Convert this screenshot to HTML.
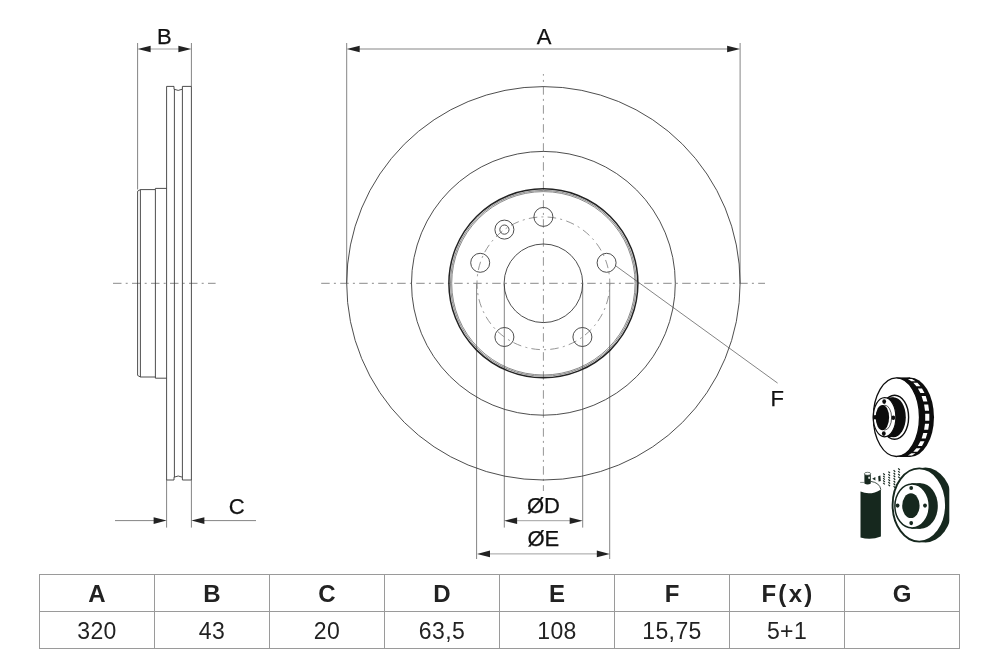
<!DOCTYPE html>
<html lang="en">
<head>
<meta charset="utf-8">
<title>Brake disc dimensions</title>
<style>
html,body{margin:0;padding:0;background:#fff;}
body{width:1000px;height:666px;position:relative;overflow:hidden;font-family:"Liberation Sans",Arial,sans-serif;}
svg.drawing{position:absolute;left:0;top:0;display:block;will-change:transform;}
table.dims{will-change:transform;position:absolute;left:39px;top:574px;width:921px;height:74px;border-collapse:collapse;table-layout:fixed;}
table.dims th,table.dims td{border:1px solid #9a9a9a;text-align:center;padding:0;font-size:22px;color:#222;line-height:36px;height:36px;}
table.dims th{font-weight:bold;font-size:24px;padding-top:2px;line-height:34px;height:34px;}
table.dims th.fx{letter-spacing:2.3px;padding-left:2px;}
table.dims td{font-weight:normal;font-size:23px;letter-spacing:0.4px;padding-top:3px;line-height:33px;height:33px;}
</style>
</head>
<body>
<svg class="drawing" width="1000" height="666" viewBox="0 0 1000 666">
<rect width="1000" height="666" fill="#fff"/>
<g fill="none" stroke="#858585" stroke-width="1">
<path d="M137.6 43V189.5M191.4 43V86.4"/>
<path d="M150 49H179" stroke="#a0a0a0"/>
<path d="M166.6 480V527.6M191.4 480V527.6"/>
<path d="M115 520.6H154M204 520.6H256"/>
<path d="M346.7 43V283M740.1 43V283"/>
<path d="M359 49H728"/>
<path d="M504.3 283.3V527.6M582.7 283.3V527.6M476.6 283.3V559M609.7 283.3V559"/>
<path d="M516 520.7H571M489 553.9H598" stroke="#a0a0a0"/>
<path d="M615.5 265.7L777.6 383.1"/>
</g>
<polygon points="137.6,49 150.6,45.7 150.6,52.3" fill="#222"/>
<polygon points="191.4,49 178.4,45.7 178.4,52.3" fill="#222"/>
<polygon points="166.6,520.6 153.6,517.3000000000001 153.6,523.9" fill="#222"/>
<polygon points="191.4,520.6 204.4,517.3000000000001 204.4,523.9" fill="#222"/>
<polygon points="346.7,49 359.7,45.7 359.7,52.3" fill="#222"/>
<polygon points="740.1,49 727.1,45.7 727.1,52.3" fill="#222"/>
<polygon points="504.1,520.7 517.1,517.4000000000001 517.1,524.0" fill="#222"/>
<polygon points="582.7,520.7 569.7,517.4000000000001 569.7,524.0" fill="#222"/>
<polygon points="477,553.9 490,550.6 490,557.1999999999999" fill="#222"/>
<polygon points="609.8,553.9 596.8,550.6 596.8,557.1999999999999" fill="#222"/>
<g fill="none" stroke="#8a8a8a" stroke-width="1" stroke-dasharray="8.5 4.2 2 4.3">
<path d="M113 283.3H215.6"/>
<path d="M321.2 283.3H765"/>
</g>
<g fill="none" stroke="#8a8a8a" stroke-width="0.9" stroke-dasharray="8.5 4.2 2 4.3">
<path d="M543.4 74V491" stroke-dashoffset="6.8"/>
<circle cx="543.4" cy="283.3" r="66.4" stroke-dashoffset="6.3"/>
</g>
<g fill="none" stroke="#3a3a3a" stroke-width="0.9" stroke-linejoin="round">
<path d="M166.6 480V86.4H174V89.2Q178.2 91.6 182.4 89.2V86.4H191.4V480H182.4V477.2Q178.2 474.8 174 477.2V480Z"/>
<path d="M174.4 89.2V477.2M182.4 89.2V477.2"/>
<path d="M166.6 188.4H155.4V189.6H140.4L137.6 191.2V375.4L140.4 377H155.4V378.2H166.6"/>
<path d="M140.4 189.6V377M155.4 189.6V377"/>
</g>
<g fill="none" stroke="#3a3a3a" stroke-width="0.9">
<circle cx="543.4" cy="283.3" r="196.7"/>
<circle cx="543.4" cy="283.3" r="131.9"/>
<circle cx="543.4" cy="283.3" r="94.5" stroke-width="1.5" stroke="#222"/>
<circle cx="543.4" cy="283.3" r="92.9" stroke-width="0.6"/>
<circle cx="543.4" cy="283.3" r="91.7" stroke-width="0.6"/>
<circle cx="543.4" cy="283.3" r="39.3"/>
<circle cx="543.4" cy="216.9" r="9.5"/>
<circle cx="606.6" cy="262.8" r="9.5"/>
<circle cx="582.4" cy="337.0" r="9.5"/>
<circle cx="504.4" cy="337.0" r="9.5"/>
<circle cx="480.2" cy="262.8" r="9.5"/>
<circle cx="504.4" cy="229.6" r="9.5"/>
<circle cx="504.4" cy="229.6" r="4.6"/>
</g>
<g font-family="'Liberation Sans', Arial, sans-serif" font-size="22" fill="#111" text-anchor="middle" stroke="#111" stroke-width="0.25">
<text x="164.3" y="43.5">B</text>
<text x="544" y="43.5">A</text>
<text x="236.8" y="513.6">C</text>
<text x="543.4" y="512.5">ØD</text>
<text x="543.3" y="546.4">ØE</text>
<text x="777.3" y="405.9">F</text>
</g>
<g class="icon-vented">
<ellipse cx="910" cy="417.2" rx="24" ry="39.8" fill="#0d0d0d"/>
<rect x="896.4" y="377.4" width="13.6" height="79.6" fill="#0d0d0d"/>
<ellipse cx="896.4" cy="417.2" rx="23.1" ry="39.3" fill="#fff" stroke="#0d0d0d" stroke-width="1.3"/>
<path d="M907.9 379.0L912.0 379.0L915.5 381.2L911.4 381.2ZM913.3 382.7L917.4 382.7L920.5 386.2L916.4 386.2ZM917.9 388.5L922.0 388.5L924.5 393.1L920.4 393.1ZM921.6 395.9L925.7 395.9L927.4 401.4L923.3 401.4ZM924.1 404.6L928.2 404.6L929.1 410.7L925.0 410.7ZM925.2 413.7L929.3 413.7L929.3 420.7L925.2 420.7ZM925.0 423.7L929.1 423.7L928.2 429.8L924.1 429.8ZM923.3 433.0L927.4 433.0L925.7 438.5L921.6 438.5ZM920.4 441.3L924.5 441.3L922.0 445.9L917.9 445.9ZM916.4 448.2L920.5 448.2L917.4 451.7L913.3 451.7ZM911.4 453.2L915.5 453.2L912.0 455.4L907.9 455.4Z" fill="#fff"/>
<ellipse cx="894.6" cy="417.2" rx="14" ry="22" fill="#fff" stroke="#0d0d0d" stroke-width="1.4"/>
<ellipse cx="893.4" cy="417.2" rx="12.4" ry="20" fill="#0d0d0d"/>
<rect x="884" y="397.4" width="9.4" height="39.6" fill="#0d0d0d"/>
<ellipse cx="884.6" cy="417.2" rx="11.3" ry="19.6" fill="#fff" stroke="#0d0d0d" stroke-width="1.2"/>
<ellipse cx="884.8" cy="417.6" rx="6.8" ry="12.4" fill="#fff" stroke="#0d0d0d" stroke-width="0.7"/>
<ellipse cx="882.4" cy="417.6" rx="6.7" ry="12.7" fill="#0d0d0d"/>
<ellipse cx="884.2" cy="401.6" rx="1.9" ry="2.3" fill="#0d0d0d"/>
<ellipse cx="893.3" cy="417.7" rx="1.9" ry="2.3" fill="#0d0d0d"/>
<ellipse cx="883.8" cy="433.6" rx="1.9" ry="2.3" fill="#0d0d0d"/>
<ellipse cx="875.2" cy="417.3" rx="1.9" ry="2.3" fill="#0d0d0d"/>
</g>
<g class="icon-spray">
<clipPath id="clip2"><rect x="850" y="460" width="99.3" height="90"/></clipPath>
<g clip-path="url(#clip2)">
<ellipse cx="925.5" cy="505" rx="27" ry="37.4" fill="#16281e"/>
<ellipse cx="919.3" cy="505" rx="26.7" ry="36.6" fill="#fff" stroke="#16281e" stroke-width="1.9"/>
<ellipse cx="920.6" cy="506" rx="17.2" ry="22.8" fill="#16281e"/>
<rect x="911.4" y="483.2" width="9.2" height="45.6" fill="#16281e"/>
<ellipse cx="912.1" cy="506" rx="17.2" ry="22" fill="#fff" stroke="#16281e" stroke-width="1.5"/>
<ellipse cx="910.9" cy="505.7" rx="8.7" ry="12.4" fill="#16281e"/>
<ellipse cx="911.2" cy="488" rx="1.9" ry="2.1" fill="#16281e"/>
<ellipse cx="897.6" cy="505.6" rx="1.9" ry="2.1" fill="#16281e"/>
<ellipse cx="925" cy="505.6" rx="1.9" ry="2.1" fill="#16281e"/>
<ellipse cx="911.2" cy="523.1" rx="1.9" ry="2.1" fill="#16281e"/>
</g>
<path d="M860.5 491.6Q870.7 496 880.9 489.4V536.4Q870.7 540.6 860.5 537.4Z" fill="#16281e"/>
<path d="M860.2 482.4H864.4" fill="none" stroke="#16281e" stroke-width="0.5"/><path d="M870.8 481.4Q879.6 482.6 880.9 489.6" fill="none" stroke="#16281e" stroke-width="0.8"/>
<path d="M864.4 473.8V483.6Q867.6 485.6 870.8 483.6V473.8Z" fill="#16281e"/>
<ellipse cx="867.6" cy="473.8" rx="3.2" ry="1.5" fill="#fff" stroke="#16281e" stroke-width="0.6"/>
<ellipse cx="869.1" cy="477.8" rx="0.8" ry="1.3" fill="#fff"/>
<polygon points="872.2,478.8 875.4,477.1 875.4,480.5" fill="#16281e"/>
<path d="M878.2 476.2L880.4 475.6L880.8 481L878.6 481.6Z" fill="#16281e"/>
<path d="M883.2 473.4L884.8 475.0M883.2 475.8L884.8 477.4M883.2 478.1L884.8 479.7M883.2 480.4L884.8 482.1M883.2 482.8L884.8 484.4M888.4 471.6L890.0 473.2M888.4 474.2L890.0 475.8M888.4 476.8L890.0 478.4M888.4 479.4L890.0 481.0M888.4 482.0L890.0 483.6M888.4 484.6L890.0 486.2M893.6 470.2L895.2 471.8M893.6 472.9L895.2 474.5M893.6 475.5L895.2 477.1M893.6 478.2L895.2 479.8M893.6 480.9L895.2 482.5M893.6 483.5L895.2 485.1M893.6 486.2L895.2 487.8M898.2 468.4L899.8 470.0M898.2 471.1L899.8 472.7M898.2 473.9L899.8 475.5M898.2 476.6L899.8 478.2" fill="none" stroke="#16281e" stroke-width="1.2"/>
</g>
</svg>
<table class="dims">
<tr><th>A</th><th>B</th><th>C</th><th>D</th><th>E</th><th>F</th><th class="fx">F(x)</th><th>G</th></tr>
<tr><td>320</td><td>43</td><td>20</td><td>63,5</td><td>108</td><td>15,75</td><td>5+1</td><td></td></tr>
</table>
</body>
</html>
